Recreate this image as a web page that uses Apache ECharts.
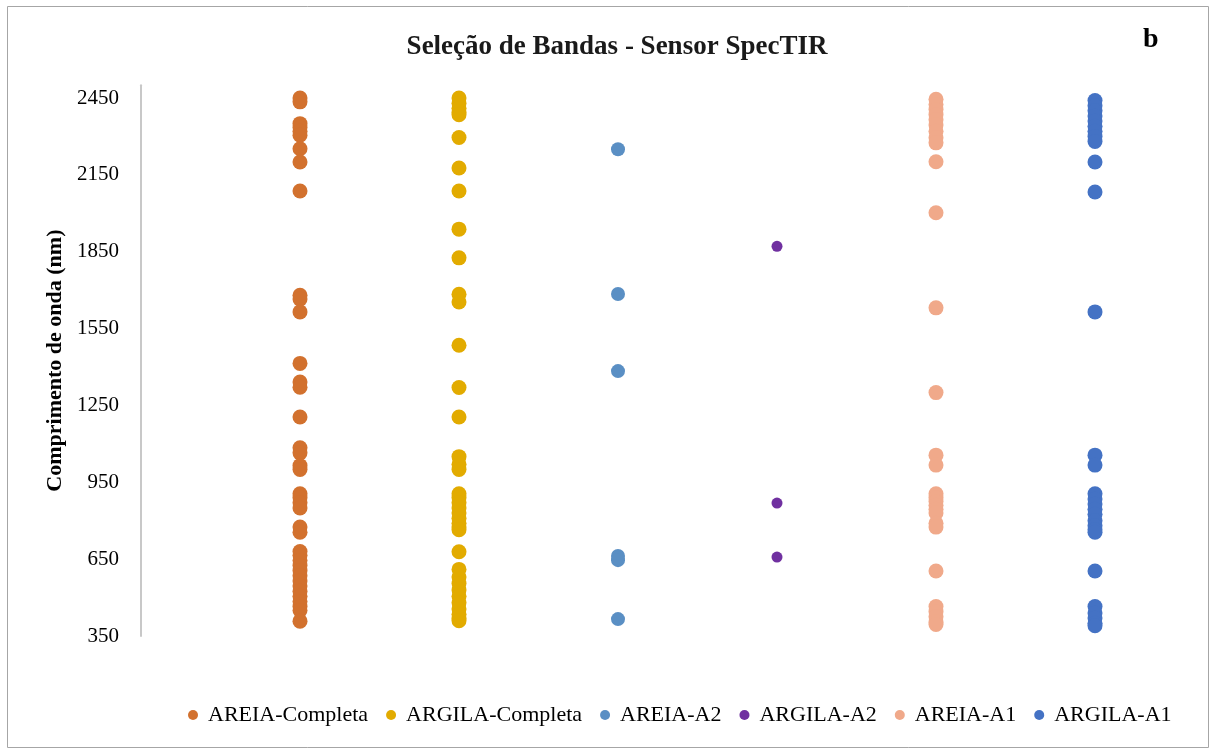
<!DOCTYPE html>
<html>
<head>
<meta charset="utf-8">
<script src="https://cdn.jsdelivr.net/npm/echarts@6/dist/echarts.min.js"></script>
<style>
  html, body { margin: 0; padding: 0; background: #fff; }
  #chart { width: 1216px; height: 755px; }
</style>
</head>
<body>
<div id="chart"></div>
<script>
// Selected band centres (nm) for each sample / configuration
const seriesNames = ['AREIA-Completa', 'ARGILA-Completa', 'AREIA-A2', 'ARGILA-A2', 'AREIA-A1', 'ARGILA-A1'];
const seriesColors = ['#D2712E', '#E2AB00', '#5A8FC4', '#7030A0', '#F0A98A', '#4472C4'];

const areiaCompleta = [2450, 2435, 2350, 2335, 2320, 2305, 2252, 2200, 2087,
  1680, 1665, 1615, 1414, 1341, 1321, 1205, 1085, 1065, 1015, 1000,
  905, 890, 870, 850, 775, 755, 680, 665, 645, 625, 605, 585, 565, 545, 525, 505, 485, 465, 450, 408];
const argilaCompleta = [2450, 2430, 2410, 2395, 2385, 2296, 2177, 2087, 1938, 1826, 1684, 1654, 1485,
  1320, 1205, 1050, 1020, 1000, 905, 890, 870, 850, 830, 810, 790, 775, 765,
  679, 610, 580, 555, 530, 505, 480, 455, 435, 420, 410];
const areiaA2 = [2250, 1685, 1384, 662, 646, 416];
const argilaA2 = [1871, 869, 658];
const areiaA1 = [2445, 2425, 2405, 2385, 2365, 2345, 2320, 2295, 2275, 2201, 2002, 1631,
  1300, 1056, 1017, 905, 890, 875, 860, 845, 830, 790, 775, 604, 465, 445, 425, 405, 395];
const argilaA1 = [2440, 2420, 2400, 2380, 2360, 2340, 2320, 2300, 2280, 2200, 2083, 1615,
  1056, 1017, 905, 885, 865, 845, 825, 800, 780, 765, 755, 604, 465, 440, 420, 400, 390];

const allValues = [areiaCompleta, argilaCompleta, areiaA2, argilaA2, areiaA1, argilaA1];
const symbolSizes = [15, 15, 14, 11, 15, 15];

const serif = '"Liberation Serif", "DejaVu Serif", serif';

const series = seriesNames.map((name, i) => ({
  name: name,
  type: 'scatter',
  symbol: 'circle',
  symbolSize: symbolSizes[i],
  itemStyle: { color: seriesColors[i], opacity: 1 },
  data: allValues[i].map(v => [i + 1, v])
}));

const chart = echarts.init(document.getElementById('chart'), null, { renderer: 'canvas' });
chart.setOption({
  animation: false,
  backgroundColor: '#ffffff',
  title: [
    {
      text: 'Seleção de Bandas - Sensor SpecTIR',
      left: 612, top: 29, textAlign: 'center',
      textStyle: { fontFamily: serif, fontWeight: 'bold', fontSize: 27, color: '#1a1a1a' }
    },
    {
      text: 'b',
      left: 1138, top: 21,
      textStyle: { fontFamily: serif, fontWeight: 'bold', fontSize: 28, color: '#000' }
    }
  ],
  graphic: [{
    type: 'rect',
    shape: { x: 7.5, y: 6.5, width: 1201, height: 741 },
    style: { fill: 'none', stroke: '#a6a6a6', lineWidth: 1 },
    silent: true
  }],
  legend: {
    data: seriesNames,
    left: 183, top: 699,
    icon: 'circle',
    itemWidth: 10, itemHeight: 10,
    itemGap: 18,
    textStyle: { fontFamily: serif, fontSize: 22, color: '#000', padding: [0, 0, 0, 5] }
  },
  grid: { left: 141, right: 41.5, top: 85.2, bottom: 119, containLabel: false },
  xAxis: {
    type: 'value', min: 0, max: 6.5,
    show: false
  },
  yAxis: {
    type: 'value', min: 350, max: 2500, interval: 300,
    name: 'Comprimento de onda (nm)',
    nameLocation: 'middle',
    nameGap: 70,
    nameRotate: 90,
    nameTextStyle: { fontFamily: serif, fontWeight: 'bold', fontSize: 22, color: '#000' },
    axisLine: { show: true, lineStyle: { color: '#c8c8c8', width: 2 } },
    axisTick: { show: false },
    splitLine: { show: false },
    axisLabel: {
      showMaxLabel: false,
      margin: 22,
      formatter: v => String(v),
      fontFamily: serif, fontSize: 21, color: '#000'
    }
  },
  series: series
});
</script>
</body>
</html>
